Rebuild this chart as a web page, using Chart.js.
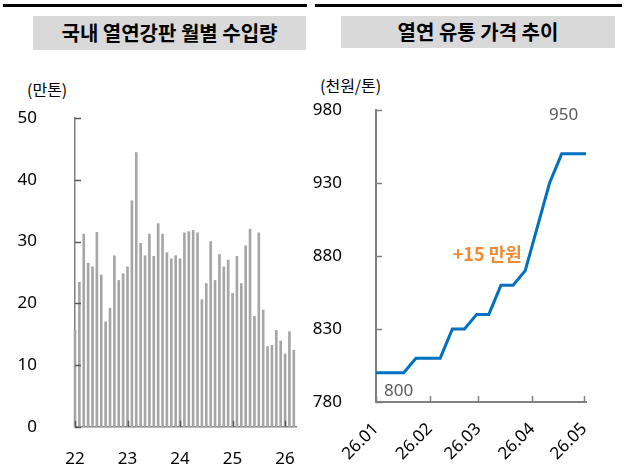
<!DOCTYPE html>
<html><head><meta charset="utf-8">
<script src="https://cdn.jsdelivr.net/npm/chart.js@4/dist/chart.umd.min.js"></script>
<style>
html,body{margin:0;padding:0;background:#fff;width:630px;height:467px;overflow:hidden;}
.bar{position:absolute;background:#000;height:3px;top:4px;}
.title{position:absolute;background:#D9D9D9;color:#000;font-family:"Noto Sans CJK KR",sans-serif;font-weight:bold;font-size:20px;text-align:center;}
.unit{position:absolute;font-family:"Noto Sans CJK KR",sans-serif;font-size:16px;color:#000;line-height:20px;}
canvas{position:absolute;top:0;}
</style></head>
<body>
<div class="bar" style="left:3px;width:304px"></div>
<div class="bar" style="left:315px;width:307px"></div>
<div class="title" style="left:33px;top:16px;width:273px;height:34px;line-height:34px">국내 열연강판 월별 수입량</div>
<div class="title" style="left:341px;top:16px;width:274px;height:32px;line-height:32px">열연 유통 가격 추이</div>
<div class="unit" style="left:27px;top:79px">(만톤)</div>
<div class="unit" style="left:320px;top:75px">(천원/톤)</div>
<canvas id="c1" width="315" height="467" style="left:0"></canvas>
<canvas id="c2" width="330" height="467" style="left:300px"></canvas>
<script>
// ---- Left chart data: monthly hot-rolled coil imports (10k tons) ----
const imports22 = [15.7, 23.4, 31.2, 26.5, 25.9, 31.5, 24.6, 17.0, 19.2, 27.7, 23.7, 24.8];
const imports23 = [25.9, 36.6, 44.4, 29.7, 27.7, 31.2, 27.6, 32.9, 31.2, 28.2, 27.2, 27.7];
const imports24 = [27.2, 31.4, 31.6, 31.8, 31.4, 20.6, 23.2, 30.0, 23.7, 27.9, 25.9, 27.0];
const imports25 = [21.6, 27.6, 23.2, 29.3, 32.0, 17.9, 31.4, 18.9, 13.0, 13.2, 15.6, 13.9];
const imports26 = [11.8, 15.4, 12.4];
const yearLabels = ['22', '23', '24', '25', '26'];
const importTicks = [0, 10, 20, 30, 40, 50];

// ---- Right chart data: distribution price (thousand won/ton) ----
const priceDates = ['2026-01-01','2026-01-03','2026-01-10','2026-01-17','2026-01-24','2026-01-31','2026-02-07','2026-02-14','2026-02-21','2026-02-28','2026-03-07','2026-03-14','2026-03-21','2026-03-28','2026-04-04','2026-04-11','2026-04-18','2026-04-25','2026-05-02'];
const priceValues = [800,800,800,800,810,810,810,830,830,840,840,860,860,870,900,930,950,950,950];
const priceTickDates = ['2026-01-01','2026-02-01','2026-03-01','2026-04-01','2026-05-01'];
const priceTickLabels = ['26.01','26.02','26.03','26.04','26.05'];
const priceTicks = [780, 830, 880, 930, 980];
const annoStart = '800', annoEnd = '950', annoChange = '+15 만원';

const allImports = [].concat(imports22, imports23, imports24, imports25, imports26);
const yearIdx = yearLabels.map((_, i) => i * 12);
const dayOf = s => { const [y,m,d] = s.split('-').map(Number); return (Date.UTC(y,m-1,d) - Date.UTC(2026,0,1)) / 86400000; };
const priceX = priceDates.map(dayOf);
const priceTickX = priceTickDates.map(dayOf);

const numFont = {family: '"Noto Sans","Noto Sans CJK KR",sans-serif', size: 17};

const inTicks = {
  id: 'inTicks',
  afterDraw(chart, args, opts) {
    const {ctx, chartArea} = chart;
    ctx.save();
    ctx.strokeStyle = opts.color; ctx.lineWidth = opts.width;
    const ys = chart.scales.y, xs = chart.scales.x;
    ys.ticks.forEach(t => { const y = Math.round(ys.getPixelForValue(t.value)) + 0.5;
      ctx.beginPath(); ctx.moveTo(chartArea.left, y); ctx.lineTo(chartArea.left + opts.len, y); ctx.stroke(); });
    xs.ticks.forEach(t => { const x = Math.round(xs.getPixelForValue(t.value)) + 0.5;
      ctx.beginPath(); ctx.moveTo(x, chartArea.bottom); ctx.lineTo(x, chartArea.bottom - opts.len); ctx.stroke(); });
    ctx.restore();
  }
};

new Chart(document.getElementById('c1'), {
  type: 'bar',
  data: { datasets: [{ data: allImports.map((v, i) => ({x: i, y: v})), backgroundColor: '#A6A6A6', barThickness: 2, clip: false }] },
  options: {
    responsive: false, devicePixelRatio: 1, animation: false,
    layout: { padding: { top: 118, right: 19, bottom: 0, left: 0 } },
    plugins: { legend: { display: false }, tooltip: { enabled: false }, inTicks: { color: '#595959', width: 1.5, len: 6 } },
    scales: {
      x: { type: 'linear', min: 0, max: 50.5, offset: false,
        grid: { display: false }, border: { display: true, color: '#7F7F7F', width: 1.5 },
        afterBuildTicks: s => { s.ticks = yearIdx.map(v => ({value: v})); },
        afterFit: s => { s.height = 40; },
        ticks: { autoSkip: false, maxRotation: 0, padding: 14, color: '#000', font: numFont,
          callback: v => yearLabels[yearIdx.indexOf(v)] } },
      y: { min: 0, max: 50,
        grid: { display: false }, border: { display: true, color: '#7F7F7F', width: 1.5 },
        afterBuildTicks: s => { s.ticks = importTicks.map(v => ({value: v})); },
        afterFit: s => { s.width = 75; },
        ticks: { padding: 30, color: '#000', font: numFont } }
    }
  },
  plugins: [inTicks]
});

const annot = {
  id: 'annot',
  afterDatasetsDraw(chart) {
    const {ctx} = chart; const xs = chart.scales.x, ys = chart.scales.y;
    ctx.save();
    ctx.textAlign = 'center'; ctx.textBaseline = 'middle';
    ctx.fillStyle = '#595959'; ctx.font = '17px "Noto Sans","Noto Sans CJK KR",sans-serif';
    ctx.fillText(annoEnd, xs.getPixelForValue(priceX[16]) + 2, ys.getPixelForValue(priceValues[16]) - 39);
    ctx.fillText(annoStart, xs.getPixelForValue(priceX[2]) + 7, ys.getPixelForValue(priceValues[2]) + 18);
    ctx.fillStyle = '#F28A33'; ctx.font = 'bold 18px "Noto Sans CJK KR",sans-serif';
    ctx.fillText(annoChange, xs.getPixelForValue(priceX[13]) - 38, ys.getPixelForValue(priceValues[13]) - 16);
    ctx.restore();
  }
};

new Chart(document.getElementById('c2'), {
  type: 'line',
  data: { datasets: [{ data: priceX.map((x, i) => ({x, y: priceValues[i]})), borderColor: '#0070C0', borderWidth: 3, pointRadius: 0, tension: 0, fill: false, clip: false }] },
  options: {
    responsive: false, devicePixelRatio: 1, animation: false,
    layout: { padding: { top: 110, right: 44, bottom: 0, left: 0 } },
    plugins: { legend: { display: false }, tooltip: { enabled: false }, inTicks: { color: '#7F7F7F', width: 1.5, len: 6 } },
    scales: {
      x: { type: 'linear', min: 0, max: 121,
        grid: { display: false }, border: { display: true, color: '#7F7F7F', width: 2 },
        afterBuildTicks: s => { s.ticks = priceTickX.map(v => ({value: v})); },
        afterFit: s => { s.height = 65; },
        ticks: { autoSkip: false, minRotation: 45, maxRotation: 45, padding: 9, color: '#000', font: numFont,
          callback: v => priceTickLabels[priceTickX.indexOf(v)] } },
      y: { min: 780, max: 980,
        grid: { display: false }, border: { display: true, color: '#7F7F7F', width: 2 },
        afterBuildTicks: s => { s.ticks = priceTicks.map(v => ({value: v})); },
        afterFit: s => { s.width = 76; },
        ticks: { padding: 26, color: '#000', font: numFont } }
    }
  },
  plugins: [inTicks, annot]
});
</script>
</body></html>
